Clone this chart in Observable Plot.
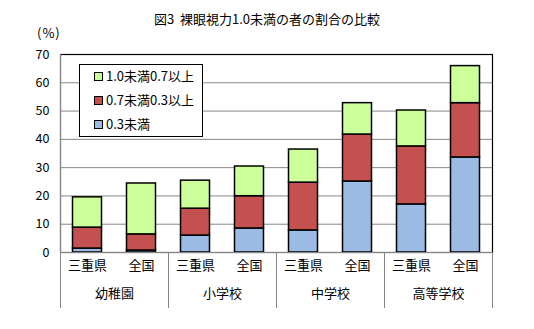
<!DOCTYPE html>
<html><head><meta charset="utf-8">
<script src="https://cdn.jsdelivr.net/npm/d3@7"></script>
<script src="https://cdn.jsdelivr.net/npm/@observablehq/plot@0.6"></script>
<style>
body{margin:0;background:#fff;font-family:"Noto Sans CJK JP","Noto Sans",sans-serif;}
#wrap{position:relative;width:534px;height:329px;overflow:hidden;}
#wrap svg{position:absolute;left:0;top:0;}
#title{position:absolute;left:0;top:9px;width:534px;text-align:center;font-size:13px;white-space:pre;color:#000;line-height:20px;}
#unit{position:absolute;left:37px;top:24px;font-size:13px;color:#000;line-height:18px;letter-spacing:1px;}
#legend{position:absolute;left:79px;top:64px;width:124px;height:73px;box-sizing:border-box;border:1px solid #000;background:#fff;}
.li{position:absolute;left:14px;height:20px;line-height:20px;font-size:13px;color:#000;white-space:nowrap;}
.sw{display:inline-block;width:7px;height:7px;border:1px solid #000;margin-right:3px;vertical-align:middle;position:relative;top:-1px;}
</style></head><body>
<div id="wrap">
  <div id="title"><span id="tt">図3  裸眼視力1.0未満の者の割合の比較</span></div>
  <div id="unit">(%)</div>
</div>
<script>
const groups = ["幼稚園","小学校","中学校","高等学校"];
const regions = ["三重県","全国"];
const seriesNames = ["0.3未満","0.7未満0.3以上","1.0未満0.7以上"];
const seriesColors = ["#9bbbe4","#c4514f","#ccff99"];
const under03 = [1.4, 0.7, 6.0, 8.5, 7.8, 25.1, 17.0, 33.6];
const from03to07 = [7.4, 5.7, 9.5, 11.4, 16.9, 16.6, 20.5, 19.2];
const from07to10 = [10.7, 18.0, 9.9, 10.5, 11.7, 11.1, 12.7, 13.1];
const yTicks = [0, 10, 20, 30, 40, 50, 60, 70];

const bars = groups.flatMap(g => regions.map(r => g + "|" + r));
const seriesValues = [under03, from03to07, from07to10];
const rows = [];
bars.forEach((b, i) => seriesValues.forEach((vals, s) => rows.push({bar: b, series: seriesNames[s], value: vals[i]})));

const gray = "#868686";
const chart = Plot.plot({
  width: 534, height: 329,
  marginTop: 54, marginLeft: 60, marginRight: 42, marginBottom: 77,
  style: {fontFamily: '"Noto Sans CJK JP","Noto Sans",sans-serif', fontSize: "13px", background: "transparent", color: "#000"},
  x: {domain: bars, padding: 0, axis: null},
  y: {domain: [0, 70], axis: null},
  color: {domain: seriesNames, range: seriesColors},
  marks: [
    Plot.gridY(yTicks, {stroke: gray, strokeOpacity: 1}),
    Plot.frame({stroke: "#000", strokeWidth: 1.2}),
    Plot.barY(rows, {x: "bar", y: "value", fill: "series", stroke: "#000", strokeWidth: 1.5, insetLeft: 12.5, insetRight: 12.5}),
    Plot.ruleY([0], {stroke: gray}),
    Plot.ruleX([bars[0]], {dx: -27, stroke: gray, insetBottom: -56}),
    Plot.ruleX(groups.slice(1).map(g => g + "|" + regions[0]), {dx: -27, stroke: gray, insetTop: 198, insetBottom: -56}),
    Plot.ruleX([bars[bars.length - 1]], {dx: 27, stroke: gray, insetTop: 198, insetBottom: -56}),
    Plot.axisY(yTicks, {tickSize: 0, tickPadding: 11, label: null, fontSize: 12.5, fill: "#000"}),
    Plot.text(bars, {x: d => d, text: d => d.split("|")[1], frameAnchor: "bottom", dy: 17, fill: "#000"}),
    Plot.text(groups, {x: g => g + "|" + regions[1], text: d => d, frameAnchor: "bottom", dx: -27, dy: 45, fill: "#000"})
  ]
});
document.getElementById("wrap").prepend(chart);

// fit title to reference width
const tt = document.getElementById("tt");
const w = tt.getBoundingClientRect().width;
const n = tt.textContent.length;
if (Math.abs(w - 227) > 2) tt.style.letterSpacing = ((227 - w) / n) + "px";

// legend (top to bottom: reverse stacking order)
const legend = document.createElement("div");
legend.id = "legend";
seriesNames.slice().reverse().forEach((name, i) => {
  const color = seriesColors[seriesNames.indexOf(name)];
  const item = document.createElement("div");
  item.className = "li";
  item.style.top = (1 + i * 24) + "px";
  const sw = document.createElement("span");
  sw.className = "sw";
  sw.style.background = color;
  item.appendChild(sw);
  item.appendChild(document.createTextNode(name));
  legend.appendChild(item);
});
document.getElementById("wrap").appendChild(legend);
</script>
</body></html>
